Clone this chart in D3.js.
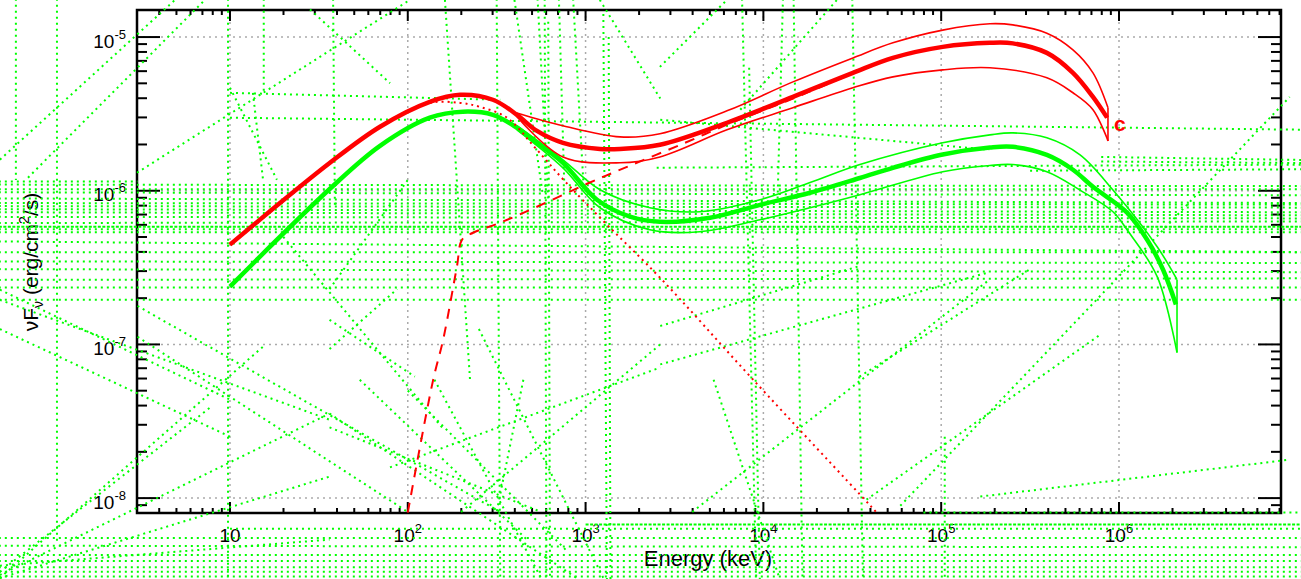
<!DOCTYPE html>
<html>
<head>
<meta charset="utf-8">
<script src="https://cdn.jsdelivr.net/npm/d3@7"></script>
<style>
  body { margin: 0; background: #fff; }
  svg { display: block; font-family: "Liberation Sans", Arial, Helvetica, sans-serif; }
</style>
</head>
<body>
<div id="chart"></div>
<script>
// ---- data (energy in keV, flux in erg/cm2/s) ----
var redTotalE = [10, 36.5, 69.8, 133, 197, 301, 411, 533, 746, 1205, 1561, 2620, 6240, 14660, 31900, 53500, 102000, 188000, 253000, 393000, 551000, 714000, 857000];
var redTotalF = [4.46e-7, 1.52e-6, 2.61e-6, 3.79e-6, 4.21e-6, 3.91e-6, 3.12e-6, 2.45e-6, 2.05e-6, 1.87e-6, 1.87e-6, 1.99e-6, 2.77e-6, 4.08e-6, 5.85e-6, 7.32e-6, 8.63e-6, 9.17e-6, 9.1e-6, 7.89e-6, 5.85e-6, 4.08e-6, 2.99e-6];

var redUpE = [411, 746, 1561, 2620, 6240, 14660, 31900, 53500, 102000, 188000, 253000, 393000, 551000, 714000, 867000];
var redUpF = [3.21e-6, 2.65e-6, 2.24e-6, 2.35e-6, 3.31e-6, 5.11e-6, 7.32e-6, 9.17e-6, 1.11e-5, 1.22e-5, 1.20e-5, 1.06e-5, 8.26e-6, 5.85e-6, 3.47e-6];
var redLoE = [411, 746, 1561, 2620, 6240, 14660, 31900, 53500, 102000, 188000, 393000, 551000, 714000, 867000];
var redLoF = [3.03e-6, 1.66e-6, 1.52e-6, 1.66e-6, 2.49e-6, 3.47e-6, 4.68e-6, 5.51e-6, 6.12e-6, 6.31e-6, 5.43e-6, 4.34e-6, 3.37e-6, 2.11e-6];

// first component (dotted) and second component (dashed)
var redBand1E = [10, 36.5, 69.8, 133, 197, 255, 361, 519, 766, 1318, 2620, 8750, 40800, 58600];
var redBand1F = [4.46e-7, 1.52e-6, 2.6e-6, 3.72e-6, 3.73e-6, 3.51e-6, 2.99e-6, 1.91e-6, 1.15e-6, 6.02e-7, 2.72e-7, 5.9e-8, 8.69e-9, 5.5e-9];
var redBand2E = [100, 139, 158, 189, 202, 233, 330, 533, 1019, 1710, 3620, 6240, 14660, 31900, 53500, 102000, 188000, 253000, 393000, 551000, 714000, 857000];
var redBand2F = [8.05e-9, 5.9e-8, 1.07e-7, 3.21e-7, 4.8e-7, 5.33e-7, 6.19e-7, 7.87e-7, 1.11e-6, 1.43e-6, 2.05e-6, 2.69e-6, 3.98e-6, 5.8e-6, 7.3e-6, 8.6e-6, 9.15e-6, 9.08e-6, 7.88e-6, 5.85e-6, 4.08e-6, 2.99e-6];

var greenTotalE = [10, 36.5, 69.8, 133, 204, 301, 411, 533, 746, 1159, 1778, 2620, 5010, 9570, 18300, 34900, 53500, 102000, 188000, 253000, 393000, 551000, 714000, 1110000, 1440000, 1770000, 2090000];
var greenTotalF = [2.38e-7, 1.03e-6, 1.96e-6, 2.99e-6, 3.27e-6, 3.12e-6, 2.57e-6, 2.05e-6, 1.52e-6, 8.74e-7, 6.78e-7, 6.28e-7, 6.67e-7, 8.1e-7, 9.7e-7, 1.21e-6, 1.41e-6, 1.72e-6, 1.91e-6, 1.93e-6, 1.71e-6, 1.37e-6, 1.06e-6, 7.2e-7, 4.8e-7, 3.06e-7, 1.82e-7];

var greenUpE = [411, 746, 1205, 2300, 4390, 9570, 18300, 34900, 102000, 188000, 253000, 393000, 604000, 925000, 1640000, 2120000];
var greenUpF = [2.65e-6, 1.59e-6, 1.015e-6, 7.75e-7, 7.3e-7, 8.74e-7, 1.13e-6, 1.48e-6, 2.05e-6, 2.31e-6, 2.38e-6, 2.21e-6, 1.71e-6, 1.01e-6, 4.32e-7, 2.64e-7];
var greenLoE = [411, 746, 1205, 2300, 4390, 9570, 18300, 34900, 102000, 188000, 253000, 393000, 604000, 925000, 1110000, 1640000, 2120000];
var greenLoF = [2.49e-6, 1.41e-6, 7.75e-7, 5.57e-7, 5.41e-7, 6.47e-7, 7.75e-7, 9.42e-7, 1.33e-6, 1.46e-6, 1.48e-6, 1.33e-6, 1.01e-6, 7.3e-7, 5.57e-7, 2.76e-7, 8.85e-8];

// stray green dotted segments, [log10 E1, log10 F1, log10 E2, log10 F2]
var greenDotted = [
  // horizontal band across the whole picture
  [-0.3, -5.96, 7.05, -5.97], [-0.3, -5.99, 7.05, -5.99], [-0.3, -6.01, 7.05, -6.03],
  [-0.3, -6.05, 7.05, -6.08], [-0.3, -6.08, 7.05, -6.09], [-0.3, -6.10, 7.05, -6.11],
  [-0.3, -6.12, 7.05, -6.14], [-0.3, -6.14, 7.05, -6.16], [-0.3, -6.17, 7.05, -6.18],
  [-0.3, -6.21, 7.05, -6.20], [-0.3, -6.25, 7.05, -6.25], [-0.3, -6.27, 7.05, -6.27],
  [-0.3, -6.33, 7.05, -6.40], [-0.3, -6.40, 7.05, -6.40], [-0.3, -6.46, 7.05, -6.47],
  [-0.3, -6.51, 7.05, -6.53], [-0.3, -6.58, 7.05, -6.57], [-0.3, -6.63, 7.05, -6.63],
  [-0.3, -6.71, 7.05, -6.71],
  // below the frame
  [-0.3, -8.26, 7.05, -8.26], [-0.3, -8.31, 7.05, -8.32], [-0.3, -8.37, 7.05, -8.37],
  [-0.3, -8.41, 7.05, -8.41], [-0.3, -8.45, 7.05, -8.45], [-0.3, -8.48, 7.05, -8.48],
  [-0.3, -8.51, 7.05, -8.51], [4.9, -8.094, 7.05, -8.094], [1.0, -8.20, 7.05, -8.20],
  // upper partial lines
  [1.0, -5.525, 7.05, -5.603], [1.0, -5.363, 2.52, -5.408], [3.42, -5.538, 5.27, -5.733],
  [-0.3, -5.94, 0.48, -5.94], [3.4, -5.85, 7.05, -5.83], [5.9, -5.78, 7.05, -5.80],
  [5.9, -5.81, 7.05, -5.82], [5.5, -5.87, 7.05, -5.86],
  // near-vertical
  [-0.204, -4.75, -0.204, -5.93], [0.027, -4.75, 0.027, -8.30], [0.989, -4.75, 0.989, -8.53],
  [1.19, -4.75, 1.19, -5.36], [1.58, -4.75, 1.59, -6.10],
  [2.50, -4.75, 2.52, -8.53], [2.77, -4.75, 2.78, -8.53], [2.79, -4.90, 2.80, -8.53],
  [2.73, -4.75, 2.79, -6.05], [2.85, -4.75, 2.88, -5.95], [2.93, -4.75, 2.99, -6.0],
  [3.10, -4.85, 3.12, -8.53], [3.13, -5.00, 3.14, -8.53], [3.88, -4.75, 3.96, -8.53],
  [3.92, -5.20, 3.98, -8.53], [4.17, -4.75, 4.22, -8.53], [4.11, -4.75, 4.08, -6.05],
  [4.50, -4.75, 4.56, -8.53], [5.02, -7.60, 5.02, -8.53],
  // diagonals
  [-0.294, -5.798, 0.691, -4.758], [-0.136, -5.915, 0.859, -4.758], [0.477, -5.883, 2.012, -4.758],
  [1.0, -5.33, 1.264, -5.928], [1.129, -5.363, 1.186, -5.928], [2.209, -4.758, 2.35, -7.229],
  [1.45, -4.82, 1.90, -5.30], [3.08, -4.758, 3.42, -5.40],
  [3.418, -5.194, 3.795, -4.758], [3.87, -5.473, 4.414, -4.758], [2.60, -4.758, 2.76, -6.03],
  [4.77, -8.05, 6.96, -5.39], [4.58, -8.01, 5.89, -6.94], [3.60, -8.09, 5.27, -6.58],
  [3.72, -7.23, 4.09, -8.52], [3.42, -6.88, 4.54, -6.49], [3.42, -7.13, 5.27, -6.53],
  [4.54, -7.21, 5.50, -6.51], [5.22, -7.99, 6.96, -7.75],
  [-0.294, -6.644, 1.0, -7.359], [-0.294, -6.71, 1.56, -7.49], [-0.294, -6.90, 1.0, -7.60],
  [0.48, -6.75, 2.52, -8.09], [0.48, -6.95, 2.0, -8.09],
  [-0.294, -8.50, 1.56, -7.45], [-0.294, -8.52, 1.56, -7.86], [-0.294, -8.48, 0.90, -7.40],
  [-0.294, -8.52, 1.2, -7.0], [-0.294, -8.44, 1.56, -8.27],
  [1.56, -6.64, 2.0, -5.93], [1.56, -6.84, 2.04, -7.21], [1.30, -6.30, 2.20, -7.55],
  [1.56, -7.45, 2.95, -8.52], [1.56, -7.54, 2.75, -8.09], [1.9, -7.8, 3.42, -7.15],
  [2.3, -8.09, 3.42, -7.0], [2.0, -7.3, 2.90, -8.35], [2.4, -6.9, 3.10, -8.52],
  [1.73, -7.23, 2.67, -8.27], [2.15, -7.23, 2.75, -8.52], [2.65, -7.23, 2.50, -8.09],
  [1.56, -7.03, 1.94, -6.64]
];
var greenSolid = [
  [-0.3, -6.235, 7.05, -6.235],
  [3.0, -8.172, 7.05, -8.172]
];

var xMajor = [1e1, 1e2, 1e3, 1e4, 1e5, 1e6];
var yMajor = [1e-8, 1e-7, 1e-6, 1e-5];

// ---- layout ----
var W = 1301, H = 579;
var L = 137, R = 1281, T = 10, B = 513;

var x = d3.scaleLog().domain([3.0, 8.15e6]).range([L, R]);
var y = d3.scaleLog().domain([8.0e-9, 1.5e-5]).range([B, T]);

var svg = d3.select("#chart").append("svg").attr("width", W).attr("height", H);

svg.append("clipPath").attr("id", "plotclip")
  .append("rect").attr("x", L).attr("y", T).attr("width", R - L).attr("height", B - T);

// minor ticks: every m*10^k inside the domain
function minors(scale) {
  var d = scale.domain(), out = [];
  for (var k = -10; k <= 8; k++) {
    for (var m = 1; m <= 9; m++) {
      var v = m * Math.pow(10, k);
      if (v >= d[0] && v <= d[1]) out.push(v);
    }
  }
  return out;
}

// grid
var grid = svg.append("g").attr("stroke", "#aaa").attr("stroke-width", 1.5)
  .attr("stroke-dasharray", "2,4");
xMajor.forEach(function(v) {
  grid.append("line").attr("x1", x(v)).attr("x2", x(v)).attr("y1", T).attr("y2", B);
});
yMajor.forEach(function(v) {
  grid.append("line").attr("x1", L).attr("x2", R).attr("y1", y(v)).attr("y2", y(v));
});

// frame and ticks
var ax = svg.append("g").attr("stroke", "#000").attr("stroke-width", 2);
ax.append("rect").attr("x", L).attr("y", T).attr("width", R - L).attr("height", B - T)
  .attr("fill", "none").attr("stroke-width", 2.5);
minors(x).forEach(function(v) {
  var len = xMajor.indexOf(v) >= 0 ? 11 : 5;
  ax.append("line").attr("x1", x(v)).attr("x2", x(v)).attr("y1", B).attr("y2", B - len);
  ax.append("line").attr("x1", x(v)).attr("x2", x(v)).attr("y1", T).attr("y2", T + len);
});
minors(y).forEach(function(v) {
  var len = yMajor.indexOf(v) >= 0 ? 23 : 10;
  ax.append("line").attr("x1", L).attr("x2", L + len).attr("y1", y(v)).attr("y2", y(v));
  ax.append("line").attr("x1", R).attr("x2", R - len).attr("y1", y(v)).attr("y2", y(v));
});

// tick labels
var labels = svg.append("g").attr("fill", "#000");
xMajor.forEach(function(v) {
  var p = Math.round(Math.log10(v));
  var t = labels.append("text").attr("x", x(v)).attr("y", B + 29)
    .attr("text-anchor", "middle").attr("font-size", 19).text("10");
  if (p !== 1) t.append("tspan").attr("font-size", 13).attr("dy", -9).text(p);
});
yMajor.forEach(function(v) {
  var p = Math.round(Math.log10(v));
  var t = labels.append("text").attr("x", 126).attr("y", y(v) + 10.5)
    .attr("text-anchor", "end").attr("font-size", 19).text("10");
  t.append("tspan").attr("font-size", 13).attr("dy", -9).text(p);
});

labels.append("text").attr("x", 708).attr("y", 566).attr("text-anchor", "middle")
  .attr("font-size", 22).text("Energy (keV)");

var yl = labels.append("text").attr("transform", "translate(38,262) rotate(-90)")
  .attr("text-anchor", "middle").attr("font-size", 21);
yl.append("tspan").text("\u03bdF");
yl.append("tspan").attr("font-size", 14).attr("dy", 5).text("\u03bd");
yl.append("tspan").attr("dy", -5).text(" (erg/cm");
yl.append("tspan").attr("font-size", 14).attr("dy", -9).text("2");
yl.append("tspan").attr("dy", 9).text("/s)");

// stray green dotted segments (not clipped)
var pt = function(lx, ly) { return [x(Math.pow(10, lx)), y(Math.pow(10, ly))]; };
var stray = svg.append("g").attr("stroke", "#00ff00").attr("fill", "none");
greenDotted.forEach(function(s) {
  var a = pt(s[0], s[1]), b = pt(s[2], s[3]);
  stray.append("line").attr("x1", a[0]).attr("y1", a[1]).attr("x2", b[0]).attr("y2", b[1])
    .attr("stroke-width", 2).attr("stroke-dasharray", "2,4");
});
greenSolid.forEach(function(s) {
  var a = pt(s[0], s[1]), b = pt(s[2], s[3]);
  stray.append("line").attr("x1", a[0]).attr("y1", a[1]).attr("x2", b[0]).attr("y2", b[1])
    .attr("stroke-width", 2).attr("stroke-dasharray", "3,1.5");
});

// model curves
var line = d3.line().x(function(d) { return x(d[0]); }).y(function(d) { return y(d[1]); })
  .curve(d3.curveCatmullRom.alpha(0.5));
var curves = svg.append("g").attr("clip-path", "url(#plotclip)").attr("fill", "none");

function envelope(upE, upF, loE, loF, color) {
  var up = d3.zip(upE, upF), lo = d3.zip(loE, loF);
  curves.append("path").attr("d", line(up)).attr("stroke", color).attr("stroke-width", 1.6);
  curves.append("path").attr("d", line(lo)).attr("stroke", color).attr("stroke-width", 1.6);
  var a = up[up.length - 1], b = lo[lo.length - 1];
  curves.append("line").attr("x1", x(a[0])).attr("y1", y(a[1])).attr("x2", x(b[0])).attr("y2", y(b[1]))
    .attr("stroke", color).attr("stroke-width", 1.6);
}

envelope(greenUpE, greenUpF, greenLoE, greenLoF, "#00ff00");
curves.append("path").attr("d", line(d3.zip(greenTotalE, greenTotalF)))
  .attr("stroke", "#00ff00").attr("stroke-width", 4.5);

curves.append("path").attr("d", line(d3.zip(redBand1E, redBand1F)))
  .attr("stroke", "#ff0000").attr("stroke-width", 2).attr("stroke-dasharray", "2,4");
curves.append("path").attr("d", line(d3.zip(redBand2E, redBand2F)))
  .attr("stroke", "#ff0000").attr("stroke-width", 2).attr("stroke-dasharray", "10,8");
envelope(redUpE, redUpF, redLoE, redLoF, "#ff0000");
curves.append("path").attr("d", line(d3.zip(redTotalE, redTotalF)))
  .attr("stroke", "#ff0000").attr("stroke-width", 4.5);

svg.append("text").attr("x", x(redTotalE[redTotalE.length - 1]) + 7).attr("y", 131)
  .attr("fill", "#ff0000").attr("font-weight", "bold").attr("font-size", 21).text("c");
</script>
</body>
</html>
